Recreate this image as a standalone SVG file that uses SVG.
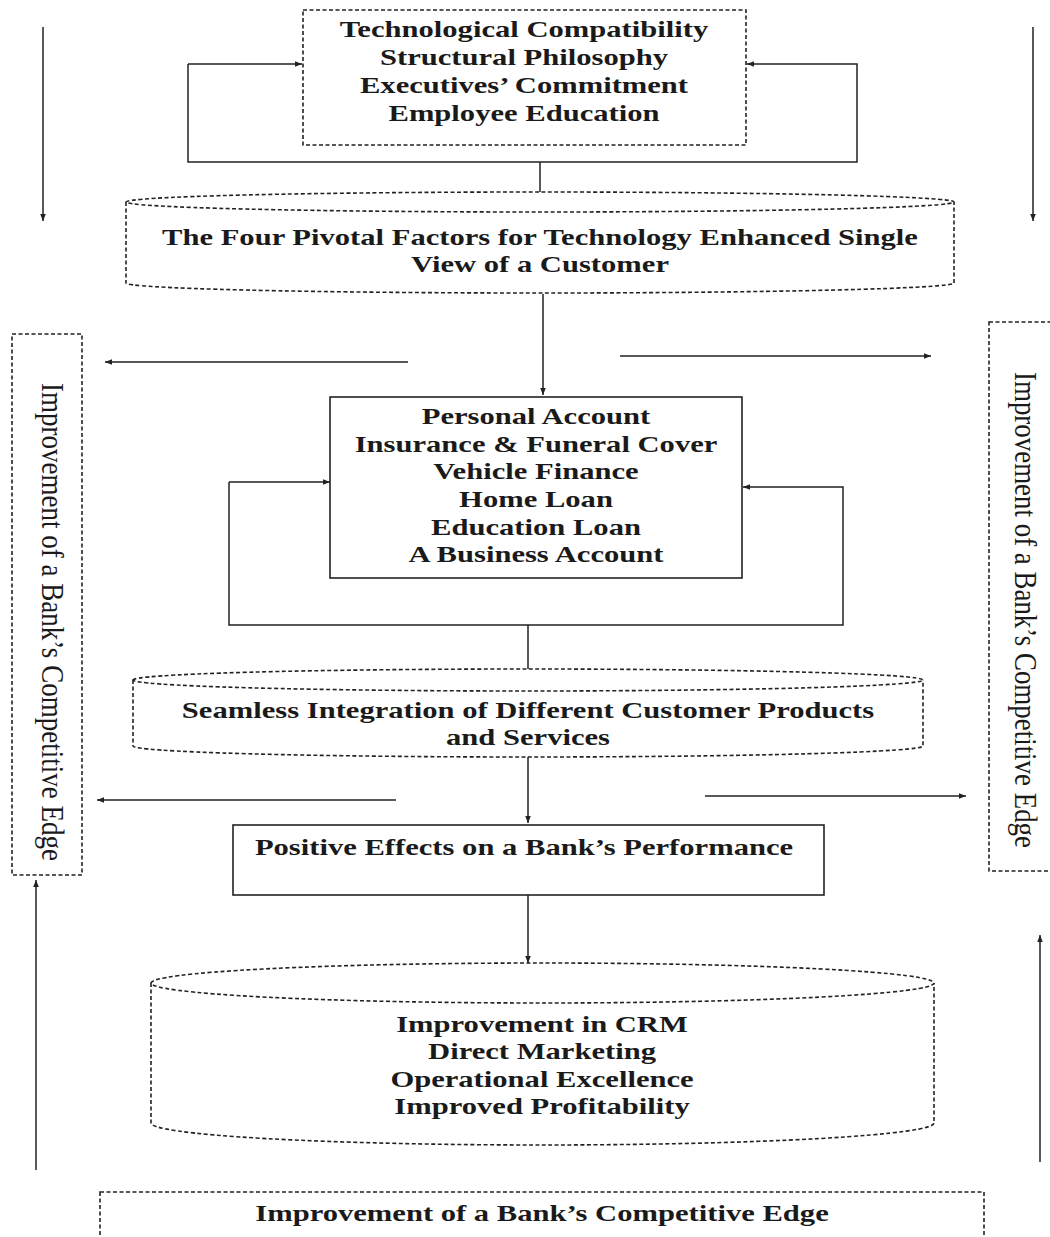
<svg xmlns="http://www.w3.org/2000/svg" width="1050" height="1237" viewBox="0 0 1050 1237">
<style>
text{font-family:"Liberation Serif","Times New Roman",serif;fill:#1a1a1a;text-anchor:middle}
.b{font-weight:bold;font-size:24px}
.side{font-size:32px}
.dash{fill:none;stroke:#222;stroke-width:1.6;stroke-dasharray:4 2.5}
.solid{fill:none;stroke:#222;stroke-width:1.6}
.ln{fill:none;stroke:#222;stroke-width:1.5}
.arr{fill:none;stroke:#222;stroke-width:1.5;marker-end:url(#ah)}
</style>
<defs>
<marker id="ah" viewBox="0 0 10 10" refX="10" refY="5" markerWidth="7" markerHeight="7" markerUnits="userSpaceOnUse" orient="auto">
<path d="M0,1 L10,5 L0,9 Z" fill="#222"/>
</marker>
</defs>
<rect width="1050" height="1237" fill="#fff"/>

<g id="connectors">
<polyline class="arr" points="188,64 188,162 857,162 857,64 747,64"/>
<polyline class="arr" points="188,64 302,64"/>
<line class="ln" x1="540" y1="162" x2="540" y2="192"/>
<line class="arr" x1="43" y1="27" x2="43" y2="221"/>
<line class="arr" x1="1033" y1="27" x2="1033" y2="221"/>
<line class="arr" x1="543" y1="294" x2="543" y2="395"/>
<line class="arr" x1="408" y1="362" x2="105" y2="362"/>
<line class="arr" x1="620" y1="356" x2="931" y2="356"/>
<polyline class="arr" points="229,482 229,625 843,625 843,487 743,487"/>
<polyline class="arr" points="229,482 330,482"/>
<line class="ln" x1="528" y1="625" x2="528" y2="669"/>
<line class="arr" x1="528" y1="757" x2="528" y2="823"/>
<line class="arr" x1="396" y1="800" x2="97" y2="800"/>
<line class="arr" x1="705" y1="796" x2="966" y2="796"/>
<line class="arr" x1="528" y1="895" x2="528" y2="963"/>
<line class="arr" x1="36" y1="1170" x2="36" y2="880"/>
<line class="arr" x1="1040" y1="1162" x2="1040" y2="935"/>
</g>

<g id="factors">
<rect class="dash" x="303" y="10" width="443" height="135"/>
<g transform="translate(524,0) scale(1.275,1)">
<text class="b" x="0" y="37">Technological Compatibility</text>
<text class="b" x="0" y="65">Structural Philosophy</text>
<text class="b" x="0" y="93">Executives’ Commitment</text>
<text class="b" x="0" y="121">Employee Education</text>
</g>
</g>

<g id="pivotal">
<path class="dash" d="M126,202 A414,10 0 0,1 954,202 A414,10 0 0,1 126,202 Z"/>
<path class="dash" d="M126,202 V283 A414,10 0 0,0 954,283 V202"/>
<g transform="translate(540,0) scale(1.275,1)">
<text class="b" x="0" y="245">The Four Pivotal Factors for Technology Enhanced Single</text>
<text class="b" x="0" y="272">View of a Customer</text>
</g>
</g>

<g id="products">
<rect class="solid" x="330" y="397" width="412" height="181"/>
<g transform="translate(536,0) scale(1.275,1)">
<text class="b" x="0" y="424">Personal Account</text>
<text class="b" x="0" y="452">Insurance &amp; Funeral Cover</text>
<text class="b" x="0" y="479">Vehicle Finance</text>
<text class="b" x="0" y="507">Home Loan</text>
<text class="b" x="0" y="535">Education Loan</text>
<text class="b" x="0" y="562">A Business Account</text>
</g>
</g>

<g id="integration">
<path class="dash" d="M133,680 A395,11 0 0,1 923,680 A395,11 0 0,1 133,680 Z"/>
<path class="dash" d="M133,680 V746 A395,11 0 0,0 923,746 V680"/>
<g transform="translate(528,0) scale(1.275,1)">
<text class="b" x="0" y="718">Seamless Integration of Different Customer Products</text>
<text class="b" x="0" y="745">and Services</text>
</g>
</g>

<g id="performance">
<rect class="solid" x="233" y="825" width="591" height="70"/>
<g transform="translate(524,0) scale(1.275,1)">
<text class="b" x="0" y="855">Positive Effects on a Bank’s Performance</text>
</g>
</g>

<g id="outcomes">
<path class="dash" d="M151,983 A391.5,20 0 0,1 934,983 A391.5,20 0 0,1 151,983 Z"/>
<path class="dash" d="M151,983 V1123 A391.5,22 0 0,0 934,1123 V983"/>
<g transform="translate(542,0) scale(1.275,1)">
<text class="b" x="0" y="1032">Improvement in CRM</text>
<text class="b" x="0" y="1059">Direct Marketing</text>
<text class="b" x="0" y="1087">Operational Excellence</text>
<text class="b" x="0" y="1114">Improved Profitability</text>
</g>
</g>

<g id="edge-left">
<rect class="dash" x="12" y="334" width="70" height="541"/>
<text class="side" transform="translate(42,622) rotate(90)" textLength="478" lengthAdjust="spacingAndGlyphs">Improvement of a Bank’s Competitive Edge</text>
</g>

<g id="edge-right">
<rect class="dash" x="989" y="322" width="80" height="549"/>
<text class="side" transform="translate(1015,610) rotate(90)" textLength="476" lengthAdjust="spacingAndGlyphs">Improvement of a Bank’s Competitive Edge</text>
</g>

<g id="edge-bottom">
<rect class="dash" x="100" y="1192" width="884" height="80"/>
<g transform="translate(542,0) scale(1.275,1)">
<text class="b" x="0" y="1221">Improvement of a Bank’s Competitive Edge</text>
</g>
</g>
</svg>
